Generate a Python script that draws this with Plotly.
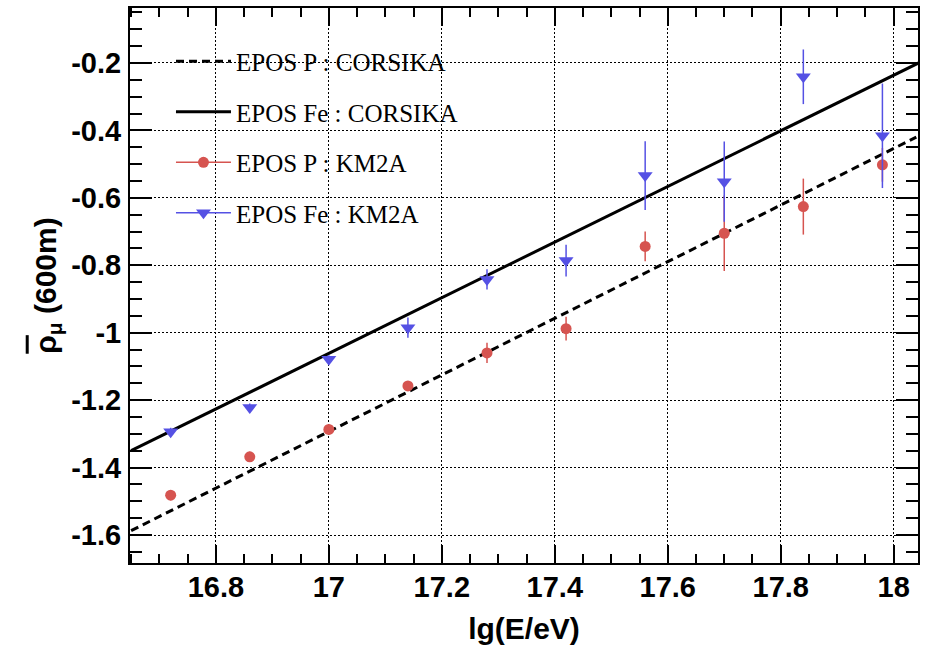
import plotly.graph_objects as go

# ---- data ----
lg_e = [16.72, 16.86, 17.00, 17.14, 17.28, 17.42, 17.56, 17.70, 17.84, 17.98]
p_km2a = [-1.482, -1.368, -1.287, -1.158, -1.060, -0.988, -0.744, -0.705, -0.626, -0.502]
p_km2a_err = [0.015, 0.015, 0.015, 0.015, 0.030, 0.035, 0.044, 0.112, 0.083, 0.05]
fe_km2a = [-1.294, -1.222, -1.079, -0.985, -0.842, -0.786, -0.534, -0.552, -0.241, -0.416]
fe_km2a_err = [0.012, 0.012, 0.012, 0.030, 0.030, 0.047, 0.102, 0.119, 0.081, 0.155]

line_x = [16.65, 18.04]
p_corsika = [-1.587, -0.42]
fe_line_x = [16.65, 18.05]
fe_corsika = [-1.35, -0.195]

x_tickvals = [16.8, 17.0, 17.2, 17.4, 17.6, 17.8, 18.0]
x_ticktext = ["16.8", "17", "17.2", "17.4", "17.6", "17.8", "18"]
y_tickvals = [-1.6, -1.4, -1.2, -1.0, -0.8, -0.6, -0.4, -0.2]
y_ticktext = ["-1.6", "-1.4", "-1.2", "-1", "-0.8", "-0.6", "-0.4", "-0.2"]

RED = "#d65450"
BLUE = "#5551e4"

fig = go.Figure()

fig.add_trace(go.Scatter(x=line_x, y=p_corsika, mode="lines", name="EPOS P : CORSIKA",
                         legendgroup="a", line=dict(color="black", width=3, dash="8px,5px")))
fig.add_trace(go.Scatter(x=fe_line_x, y=fe_corsika, mode="lines", name="EPOS Fe : CORSIKA",
                         legendgroup="b", line=dict(color="black", width=3)))
# legend-only entries (line + marker symbol)
fig.add_trace(go.Scatter(x=[None], y=[None], mode="lines+markers", name="EPOS P : KM2A",
                         legendgroup="c", line=dict(color=RED, width=1.5),
                         marker=dict(symbol="circle", size=11, color=RED)))
fig.add_trace(go.Scatter(x=[None], y=[None], mode="lines+markers", name="EPOS Fe : KM2A",
                         legendgroup="d", line=dict(color=BLUE, width=1.5),
                         marker=dict(symbol="triangle-down", size=13, color=BLUE)))
# data
fig.add_trace(go.Scatter(x=lg_e, y=p_km2a, mode="markers", showlegend=False, legendgroup="c",
                         marker=dict(symbol="circle", size=11, color=RED),
                         error_y=dict(type="data", array=p_km2a_err, color=RED, thickness=1.5, width=0)))
fig.add_trace(go.Scatter(x=lg_e, y=fe_km2a, mode="markers", showlegend=False, legendgroup="d",
                         marker=dict(symbol="triangle-down", size=13, color=BLUE),
                         error_y=dict(type="data", array=fe_km2a_err, color=BLUE, thickness=1.5, width=0)))

tickfont = dict(family="Liberation Sans, Arial", size=29, color="black", weight="bold")

fig.update_layout(
    width=928, height=649,
    margin=dict(l=130, r=10, t=6, b=86),
    paper_bgcolor="white", plot_bgcolor="white",
    showlegend=True,
    legend=dict(x=0.052, y=0.945, xanchor="left", yanchor="top",
                bgcolor="rgba(0,0,0,0)", borderwidth=0,
                font=dict(family="Liberation Serif, Times New Roman", size=25, color="black"),
                traceorder="grouped", tracegroupgap=15, itemwidth=55),
    xaxis=dict(
        range=[16.648, 18.043],
        tickmode="array", tickvals=x_tickvals, ticktext=x_ticktext,
        ticks="inside", ticklen=18, tickwidth=1.5, tickcolor="black",
        minor=dict(tickmode="linear", tick0=16.8, dtick=0.05, ticks="inside", ticklen=9,
                   tickwidth=1.5, tickcolor="black", showgrid=False),
        showline=True, linecolor="black", linewidth=2, mirror="ticks",
        showgrid=True, gridcolor="black", gridwidth=1, griddash="2px,2px",
        zeroline=False, tickfont=tickfont, ticklabelstandoff=-3,
        title=dict(text="lg(E/eV)", font=dict(family="Liberation Sans, Arial", size=30,
                                               color="black", weight="bold"), standoff=16),
    ),
    yaxis=dict(
        range=[-1.683, -0.037],
        tickmode="array", tickvals=y_tickvals, ticktext=y_ticktext,
        ticks="inside", ticklen=22, tickwidth=1.5, tickcolor="black",
        minor=dict(tickmode="linear", tick0=-1.6, dtick=0.05, ticks="inside", ticklen=12,
                   tickwidth=1.5, tickcolor="black", showgrid=False),
        showline=True, linecolor="black", linewidth=2, mirror="ticks",
        showgrid=True, gridcolor="black", gridwidth=1, griddash="2px,2px",
        zeroline=False, tickfont=tickfont, ticklabelstandoff=1,
        title=dict(text="<span style='text-decoration:overline'>ρ</span><sub>μ</sub> (600m)",
                   font=dict(family="Liberation Sans, Arial", size=30, color="black", weight="bold"),
                   standoff=6),
    ),
)

fig.write_html("out.html")
